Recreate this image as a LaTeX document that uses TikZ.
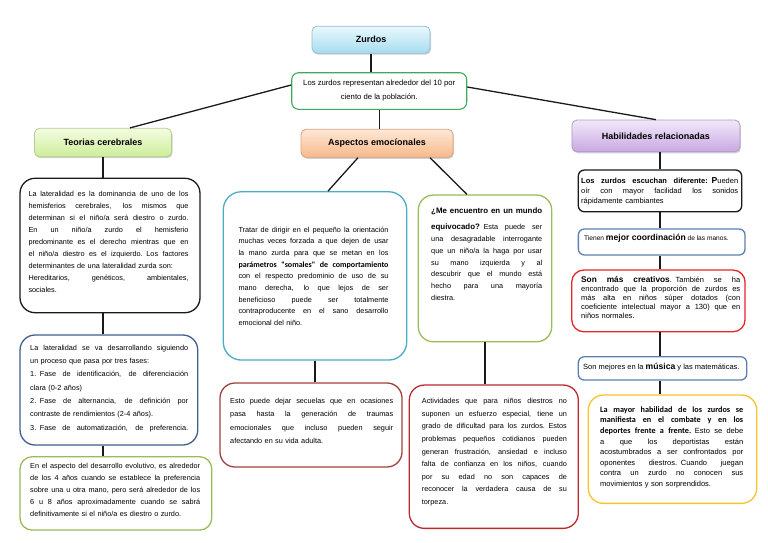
\documentclass[tikz,border=0pt]{standalone}
\usepackage{fontspec}
\setmainfont{Liberation Sans}
\newfontfamily\calib{Carlito}
\usetikzlibrary{calc,shadows}
\definecolor{zTop}{HTML}{EAF8FD}\definecolor{zBot}{HTML}{A6DCEF}\definecolor{zLine}{HTML}{93BFD3}
\definecolor{tTop}{HTML}{F4FCE2}\definecolor{tBot}{HTML}{CDEE9A}\definecolor{tLine}{HTML}{B3CE8A}
\definecolor{aTop}{HTML}{FEE8D6}\definecolor{aBot}{HTML}{F8B98A}\definecolor{aLine}{HTML}{D9A27F}
\definecolor{hTop}{HTML}{F2E8FA}\definecolor{hBot}{HTML}{C8A8E3}\definecolor{hLine}{HTML}{A99BC4}
\definecolor{cIntro}{HTML}{3DAA5C}
\definecolor{cBlack}{HTML}{1A1A1A}
\definecolor{cNavy}{HTML}{3F5F8F}
\definecolor{cOlive}{HTML}{9BBB59}
\definecolor{cTeal}{HTML}{4BACC6}
\definecolor{cBrick}{HTML}{A0423F}
\definecolor{cRed}{HTML}{BC2A2F}
\definecolor{cBlue}{HTML}{5A7FB5}
\definecolor{cBright}{HTML}{E5262B}
\definecolor{cGold}{HTML}{F8C32A}
\newcommand\fsz[2]{\fontsize{#1}{#2}\selectfont}
\newlength\lwd
\newcommand\jline[1]{\hbox to \lwd{\spaceskip=0.28em plus 1fil\relax #1}\par}
\newcommand\lline[1]{\hbox to \lwd{#1\hfill}\par}
\begin{document}
\begin{tikzpicture}[x=1pt,y=-1pt,
  conn/.style={draw=cBlack,line width=1.3pt},
  hdr/.style={rounded corners=5pt,line width=0.8pt,inner sep=0pt,font=\fsz{9}{11}\bfseries,
    drop shadow={shadow xshift=1pt,shadow yshift=-1.5pt,fill=black,opacity=.18}},
  cbox/.style={draw,fill=white,line width=1.3pt,inner sep=0pt},
  txt/.style={inner sep=0pt,anchor=north west},
]
\useasboundingbox (0,0) rectangle (768,543);
% headers
\node[hdr,draw=zLine,top color=zTop,bottom color=zBot,minimum width=118pt,minimum height=27pt] (zurdos) at (371,39.7) {Zurdos};
\node[cbox,draw=cIntro,rounded corners=7pt,line width=1.1pt,minimum width=175pt,minimum height=36.6pt] (intro) at (379.2,91) {};
\node[align=center,inner sep=0pt,font=\fsz{7.7}{13.7}] (tintro) at (379.2,90.5) {Los zurdos representan alrededor del 10 por\\ciento de la población.};
\node[hdr,draw=tLine,top color=tTop,bottom color=tBot,minimum width=137pt,minimum height=28.4pt] (teorias) at (103,142.5) {Teorias cerebrales};
\node[hdr,draw=aLine,top color=aTop,bottom color=aBot,minimum width=152pt,minimum height=28pt] (aspectos) at (377,143.3) {Aspectos emocíonales};
\node[hdr,draw=hLine,top color=hTop,bottom color=hBot,minimum width=168pt,minimum height=31.7pt] (habil) at (655.9,135.9) {Habilidades relacionadas};
% content boxes
\node[cbox,draw=cBlack,rounded corners=15pt,minimum width=180pt,minimum height=134.4pt] (left1) at (110,245.5) {};
\node[cbox,draw=cNavy,rounded corners=15pt,minimum width=177.7pt,minimum height=110pt] (left2) at (108.9,390) {};
\node[cbox,draw=cOlive,rounded corners=12pt,minimum width=191.7pt,minimum height=73.3pt] (left3) at (115.9,493.4) {};
\node[cbox,draw=cTeal,rounded corners=18pt,minimum width=183.4pt,minimum height=168.3pt] (mid1) at (315,275.9) {};
\node[cbox,draw=cBrick,rounded corners=15pt,minimum width=182pt,minimum height=84pt] (mid2) at (311,425) {};
\node[cbox,draw=cOlive,rounded corners=15pt,minimum width=133.4pt,minimum height=146.7pt] (midr1) at (485,268.4) {};
\node[cbox,draw=cRed,rounded corners=15pt,minimum width=169pt,minimum height=143.3pt] (midr2) at (493.8,456.7) {};
\node[cbox,draw=cBlack,rounded corners=6pt,minimum width=163.4pt,minimum height=41.7pt] (r1) at (660,190.9) {};
\node[cbox,draw=cBlue,rounded corners=6pt,minimum width=166.7pt,minimum height=26pt] (r2) at (661.7,242) {};
\node[cbox,draw=cBright,rounded corners=12pt,minimum width=173.3pt,minimum height=61.7pt] (r3) at (658.4,300.9) {};
\node[cbox,draw=cBlue,rounded corners=6pt,minimum width=168.4pt,minimum height=23.3pt] (r4) at (662.5,368.4) {};
\node[cbox,draw=cGold,rounded corners=15pt,minimum width=168.4pt,minimum height=108.3pt] (r5) at (672.5,449.2) {};
% connectors
\draw[conn] (zurdos.south) -- (zurdos.south |- intro.north);
\draw[conn] (intro.south) -- (intro.south |- aspectos.north);
\draw[conn] ($(intro.west)+(0,-6)$) -- ($(teorias.north)+(27,0)$);
\draw[conn] ($(intro.east)+(0,-4)$) -- (habil.north);
\draw[conn] ($(aspectos.south)+(-19,0)$) -- ($(mid1.north)+(13,0)$);
\draw[conn] ($(aspectos.south)+(53,0)$) -- ($(midr1.north)+(-18,0)$);
\draw[conn] (teorias.south) -- (teorias.south |- left1.north);
\draw[conn] (teorias.south |- left1.south) -- (teorias.south |- left2.north);
\draw[conn] (teorias.south |- left2.south) -- (teorias.south |- left3.north);
\draw[conn] (mid1.south) -- (mid1.south |- mid2.north);
\draw[conn] (midr1.south) -- (midr1.south |- midr2.north);
\draw[conn] (habil.south -| r1.north) -- (r1.north);
\draw[conn] (r1.south) -- (r1.south |- r2.north);
\draw[conn] (r1.south |- r2.south) -- (r1.south |- r3.north);
\draw[conn] (r1.south |- r3.south) -- (r1.south |- r4.north);
\draw[conn] (r1.south |- r4.south) -- (r1.south |- r5.north);
% texts
\node[txt,text width=160pt,font=\fsz{7.3}{11.9}] (tl1) at (28.3,191.5) {\parindent=0pt\setlength\lwd{160pt}%
\jline{La lateralidad es la dominancia de uno de los}%
\jline{hemisferios cerebrales, los mismos que}%
\jline{determinan si el niño/a será diestro o zurdo.}%
\jline{En un niño/a zurdo el hemisferio}%
\jline{predominante es el derecho mientras que en}%
\jline{el niño/a diestro es el izquierdo. Los factores}%
\lline{determinantes de una lateralidad zurda son:}%
\jline{Hereditarios, genéticos, ambientales,}%
\lline{sociales.}};
\node[txt,text width=158pt,font=\fsz{7.3}{13.3}] (tl2) at (30,344.8) {\parindent=0pt\setlength\lwd{158pt}%
\jline{La lateralidad se va desarrollando siguiendo}%
\lline{un proceso que pasa por tres fases:}%
\jline{1. Fase de identificación, de diferenciación}%
\lline{clara (0-2 años)}%
\jline{2. Fase de alternancia, de definición por}%
\lline{contraste de rendimientos (2-4 años).}%
\jline{3. Fase de automatización, de preferencia.}};
\node[txt,text width=170pt,font=\fsz{7.3}{11.9}] (tl3) at (30,463.2) {\parindent=0pt\setlength\lwd{170pt}%
\jline{En el aspecto del desarrollo evolutivo, es alrededor}%
\jline{de los 4 años cuando se establece la preferencia}%
\jline{sobre una u otra mano, pero será alrededor de los}%
\jline{6 u 8 años aproximadamente cuando se sabrá}%
\lline{definitivamente si el niño/a es diestro o zurdo.}};
\node[txt,text width=150pt,font=\fsz{7.3}{11.67}] (tm1) at (238.3,226.5) {\parindent=0pt\setlength\lwd{150pt}%
\jline{Tratar de dirigir en el pequeño la orientación}%
\jline{muchas veces forzada a que dejen de usar}%
\jline{la mano zurda para que se metan en los}%
\jline{{\calib\bfseries\fontsize{8}{10}\selectfont parámetros "somales" de comportamiento}}%
\jline{con el respecto predominio de uso de su}%
\jline{mano derecha, lo que lejos de ser}%
\jline{beneficioso puede ser totalmente}%
\jline{contraproducente en el sano desarrollo}%
\lline{emocional del niño.}};
\node[txt,text width=163pt,font=\fsz{7.3}{13.4}] (tm2) at (230,398) {\parindent=0pt\setlength\lwd{163pt}%
\jline{Esto puede dejar secuelas que en ocasiones}%
\jline{pasa hasta la generación de traumas}%
\jline{emocionales que incluso pueden seguir}%
\lline{afectando en su vida adulta.}};
\node[txt,text width=111pt,font=\fsz{7.3}{11.7}] (tmr1) at (431,208) {\parindent=0pt\setlength\lwd{111pt}%
\jline{{\fontsize{7.9}{10}\selectfont\bfseries ¿Me encuentro en un mundo}}\vspace{4.3pt}%
\jline{{\fontsize{7.9}{10}\selectfont\bfseries equivocado?} Esta puede ser}%
\jline{una desagradable interrogante}%
\jline{que un niño/a la haga por usar}%
\jline{su mano izquierda y al}%
\jline{descubrir que el mundo está}%
\jline{hecho para una mayoría}%
\lline{diestra.}};
\node[txt,text width=145pt,font=\fsz{7.3}{12.6}] (tmr2) at (421.7,398.2) {\parindent=0pt\setlength\lwd{145pt}%
\jline{Actividades que para niños diestros no}%
\jline{suponen un esfuerzo especial, tiene un}%
\jline{grado de dificultad para los zurdos. Estos}%
\jline{problemas pequeños cotidianos pueden}%
\jline{generan frustración, ansiedad e incluso}%
\jline{falta de confianza en los niños, cuando}%
\jline{por su edad no son capaces de}%
\jline{reconocer la verdadera causa de su}%
\lline{torpeza.}};
\node[txt,text width=157pt,font=\fsz{7.5}{10.2}] (tr1) at (581,177) {\parindent=0pt\setlength\lwd{157pt}%
\jline{\textbf{Los zurdos escuchan diferente: {\fontsize{8.6}{10}\selectfont P}}ueden}%
\jline{oír con mayor facilidad los sonidos}%
\lline{rápidamente cambiantes}};
\node[anchor=west,inner sep=0pt,font=\fsz{6.6}{8}] (tr2) at (584,238.5) {Tienen {\fontsize{8.6}{10}\selectfont\bfseries mejor coordinación} de las manos.};
\node[txt,text width=159pt,font=\fsz{7.5}{9}] (tr3) at (581,276.5) {\parindent=0pt\setlength\lwd{159pt}%
\jline{{\fontsize{8.3}{9}\selectfont\bfseries Son más creativos}. También se ha}%
\jline{encontrado que la proporción de zurdos es}%
\jline{más alta en niños súper dotados (con}%
\jline{coeficiente intelectual mayor a 130) que en}%
\lline{niños normales.}};
\node[anchor=west,inner sep=0pt,font=\fsz{7.5}{9}] (tr4) at (583,367.5) {Son mejores en la {\fontsize{8.6}{10}\selectfont\bfseries música} y las matemáticas.};
\node[txt,text width=143pt,font=\fsz{7.5}{10.6}] (tr5) at (600,406.3) {\parindent=0pt\setlength\lwd{143pt}%
\jline{{\calib\bfseries\fontsize{8.2}{10}\selectfont La mayor habilidad de los zurdos se}}%
\jline{{\calib\bfseries\fontsize{8.2}{10}\selectfont manifiesta en el combate y en los}}%
\jline{{\calib\bfseries\fontsize{8.2}{10}\selectfont deportes frente a frente.} Esto se debe}%
\jline{a que los deportistas están}%
\jline{acostumbrados a ser confrontados por}%
\jline{oponentes diestros. Cuando juegan}%
\jline{contra un zurdo no conocen sus}%
\lline{movimientos y son sorprendidos.}};
\end{tikzpicture}
\end{document}
